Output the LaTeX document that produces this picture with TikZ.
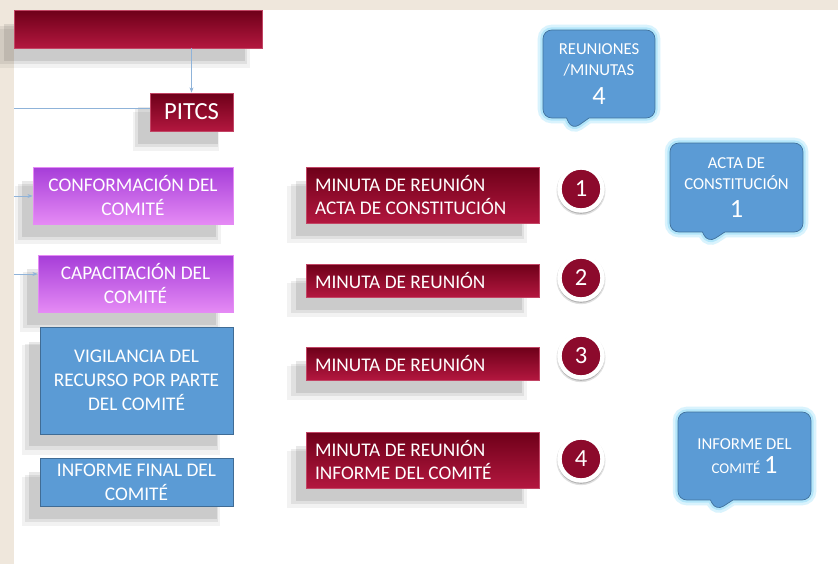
\documentclass[tikz,border=0pt]{standalone}
\usepackage{fontspec}
\setmainfont{Carlito}
\usetikzlibrary{shadows,shapes.callouts,arrows.meta}
\definecolor{fondo}{HTML}{EFE7DC}
\definecolor{guinda}{HTML}{8C0A2C}
\definecolor{guindaosc}{HTML}{6E0019}
\definecolor{guindaclaro}{HTML}{B3173F}
\definecolor{morado}{HTML}{A63DD8}
\definecolor{moradoclaro}{HTML}{E58AF5}
\definecolor{azul}{HTML}{5B9BD5}
\definecolor{azulborde}{HTML}{41719C}
\definecolor{linea}{HTML}{8FB3D9}

\tikzset{
  sombra/.style={
    drop shadow={shadow xshift=-0.3cm, shadow yshift=-0.38cm, shadow scale=1.03, opacity=0.05, fill=black},
    drop shadow={shadow xshift=-0.3cm, shadow yshift=-0.33cm, opacity=0.07, fill=black},
    drop shadow={shadow xshift=-0.28cm, shadow yshift=-0.28cm, shadow scale=0.97, opacity=0.09, fill=black}},
  caja/.style={rectangle, text=white, align=center, inner sep=2pt,
    font=\fontsize{11}{13.5}\selectfont, sombra},
  rojo/.style={caja, top color=guindaosc, bottom color=guindaclaro, draw=guindaclaro!80!white},
  morada/.style={caja, top color=morado, bottom color=moradoclaro, draw=moradoclaro},
  azulada/.style={caja, fill=azul, draw=azul!70!black},
  minuta/.style={rojo, minimum width=4.66cm, text width=4.3cm, align=flush left},
  numero/.style={circle, fill=guinda, draw=white, line width=2.5pt, minimum size=0.86cm,
    text=white, font=\fontsize{14}{14}\selectfont,
    drop shadow={shadow xshift=0cm, shadow yshift=-0.03cm, shadow scale=1.14, opacity=0.12, fill=black},
    drop shadow={shadow xshift=0cm, shadow yshift=-0.03cm, shadow scale=1.08, opacity=0.2, fill=black}},
  globo/.style={rectangle callout, rounded corners=5pt, fill=azul, draw=azulborde,
    text=white, align=center, font=\fontsize{9.5}{12}\selectfont,
    callout pointer width=0.45cm, preaction={draw=cyan!15, line width=6pt},
    preaction={draw=cyan!30, line width=3pt}},
  conector/.style={draw=linea, thin},
}

\begin{document}
\begin{tikzpicture}[x=0.02cm,y=-0.02cm]
\useasboundingbox (0,0) rectangle (838,564);
% fondo
\fill[fondo] (0,0) rectangle (838,564);
\fill[white] (14,10) rectangle (838,564);

% columna izquierda
\node[rojo, minimum width=4.96cm, minimum height=0.76cm] (cabeza) at (138,29) {};
\node[rojo, minimum width=1.66cm, minimum height=0.76cm, font=\fontsize{14}{16}\selectfont] (pitcs) at (191.5,112) {PITCS};
\node[morada, minimum width=4cm, minimum height=1.14cm] (conf) at (133,195.5) {CONFORMACIÓN DEL\\COMITÉ};
\node[morada, minimum width=3.9cm, minimum height=1.14cm] (capac) at (135.5,283.5) {CAPACITACIÓN DEL\\COMITÉ};
\node[azulada, minimum width=3.86cm, minimum height=2.14cm] (vigil) at (136.5,380.5) {VIGILANCIA DEL\\RECURSO POR PARTE\\DEL COMITÉ};
\node[azulada, minimum width=3.86cm, minimum height=0.96cm] (final) at (136.5,482) {INFORME FINAL DEL\\COMITÉ};

% conectores
\coordinate (bordeA) at (14,108);
\coordinate (bordeB) at (14,196);
\coordinate (bordeC) at (14,274);
\draw[conector, -{Stealth[length=3pt]}] (pitcs.north |- cabeza.south) -- (pitcs.north);
\draw[conector] (bordeA) -- (bordeA -| pitcs.west);
\draw[conector, -{Stealth[length=3pt]}] (bordeB) -- (bordeB -| conf.west);
\draw[conector, -{Stealth[length=3pt]}] (bordeC) -- (bordeC -| capac.west);

% minutas
\node[minuta, minimum height=1.12cm] (min1) at (422.5,195) {MINUTA DE REUNIÓN\\ACTA DE CONSTITUCIÓN};
\node[minuta, minimum height=0.66cm] (min2) at (422.5,280.5) {MINUTA DE REUNIÓN};
\node[minuta, minimum height=0.66cm] (min3) at (422.5,363.5) {MINUTA DE REUNIÓN};
\node[minuta, minimum height=1.12cm] (min4) at (422.5,460) {MINUTA DE REUNIÓN\\INFORME DEL COMITÉ};

\node[numero] (num1) at (581,189) {1};
\node[numero] (num2) at (581,278) {2};
\node[numero] (num3) at (581,356) {3};
\node[numero] (num4) at (581,459) {4};

% globos
\node[globo, minimum width=2.24cm, minimum height=1.76cm, callout absolute pointer={(572,130)}] (reun) at (599,74)
  {REUNIONES\\/MINUTAS\\[4pt]{\fontsize{15}{17}\selectfont 4}};
\node[globo, minimum width=2.66cm, minimum height=1.78cm, callout absolute pointer={(708,243)}] (acta) at (736.5,187.5)
  {ACTA DE\\CONSTITUCIÓN\\[4pt]{\fontsize{15}{17}\selectfont 1}};
\node[globo, minimum width=2.66cm, minimum height=1.76cm, callout absolute pointer={(716,511)}] (infcom) at (744.5,456)
  {INFORME DEL\\[2pt]{\fontsize{8.5}{10}\selectfont COMITÉ} {\fontsize{15}{17}\selectfont 1}};
\end{tikzpicture}
\end{document}
